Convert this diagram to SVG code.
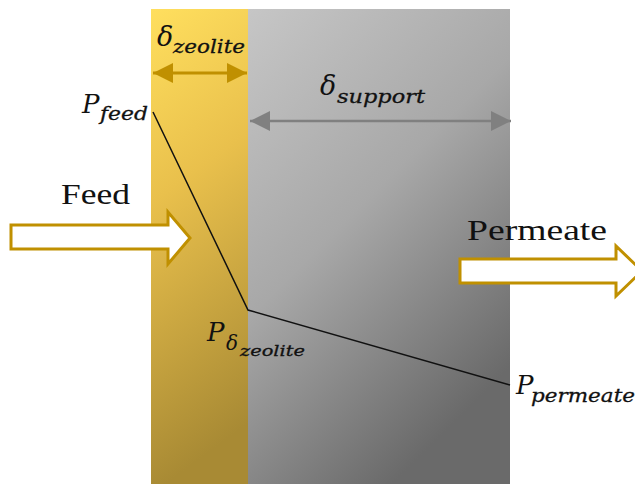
<svg xmlns="http://www.w3.org/2000/svg" width="635" height="484" viewBox="0 0 635 484">
  <defs>
    <linearGradient id="gZeo" x1="0" y1="0" x2="0.15" y2="1">
      <stop offset="0" stop-color="#FFDF5E"/>
      <stop offset="0.4" stop-color="#E9C04C"/>
      <stop offset="1" stop-color="#A88A34"/>
    </linearGradient>
    <linearGradient id="gSup" x1="0" y1="0" x2="0.55" y2="1">
      <stop offset="0" stop-color="#C6C6C6"/>
      <stop offset="0.5" stop-color="#A8A8A8"/>
      <stop offset="1" stop-color="#6A6A6A"/>
    </linearGradient>
    <marker id="hGold" viewBox="0 0 10 10" refX="10" refY="5" markerWidth="20" markerHeight="20" markerUnits="userSpaceOnUse" orient="auto-start-reverse">
      <path d="M0,0 L10,5 L0,10 z" fill="#C09000"/>
    </marker>
    <marker id="hGray" viewBox="0 0 10 10" refX="10" refY="5" markerWidth="20" markerHeight="20" markerUnits="userSpaceOnUse" orient="auto-start-reverse">
      <path d="M0,0 L10,5 L0,10 z" fill="#808080"/>
    </marker>
  </defs>
  <style>
    .math { font-family: "DejaVu Serif", "Liberation Serif", serif; font-style: italic; fill: #111; }
    .sub { font-family: "DejaVu Serif", "Liberation Serif", serif; font-style: italic; fill: #111; stroke: #111; stroke-width: 0.3; }
    .sym { font-family: "DejaVu Serif", "Liberation Serif", serif; font-style: italic; fill: #111; }
    .lbl { font-family: "Liberation Serif", serif; font-size: 30px; fill: #111; }
    .flow { fill: #FFFFFF; stroke: #C09000; stroke-width: 3; stroke-linejoin: miter; }
  </style>

  <!-- membrane layers -->
  <g id="zeolite-layer">
    <rect x="151" y="9" width="97" height="475" fill="url(#gZeo)"/>
  </g>
  <g id="support-layer">
    <rect x="248" y="9" width="262" height="475" fill="url(#gSup)"/>
  </g>

  <g id="connectors">
    <!-- thickness dimensions -->
    <line x1="153" y1="73" x2="247" y2="73" stroke="#C09000" stroke-width="3" marker-start="url(#hGold)" marker-end="url(#hGold)"/>
    <line x1="250" y1="121" x2="511" y2="121" stroke="#808080" stroke-width="2.5" marker-start="url(#hGray)" marker-end="url(#hGray)"/>
    <!-- pressure profile -->
    <polyline points="153,112 248,310 510,385" fill="none" stroke="#111" stroke-width="1.5"/>
  </g>

  <g id="delta-zeolite">
    <text class="sym" x="157" y="46" font-size="27">δ</text>
    <text class="sub" x="173" y="53" font-size="18" textLength="72" lengthAdjust="spacingAndGlyphs">zeolite</text>
  </g>
  <g id="delta-support">
    <text class="sym" x="320" y="95" font-size="27">δ</text>
    <text class="sub" x="337" y="103" font-size="18" textLength="88" lengthAdjust="spacingAndGlyphs">support</text>
  </g>

  <g id="p-feed">
    <text class="math" x="82" y="113" font-size="26">P</text>
    <text class="sub" x="100" y="120" font-size="18" textLength="48" lengthAdjust="spacingAndGlyphs">feed</text>
  </g>
  <g id="p-zeolite">
    <text class="math" x="207" y="341" font-size="26">P</text>
    <text class="sym" x="226" y="350" font-size="20">δ</text>
    <text class="sub" x="240" y="356" font-size="15" textLength="65" lengthAdjust="spacingAndGlyphs">zeolite</text>
  </g>
  <g id="p-permeate">
    <text class="math" x="516" y="394" font-size="26">P</text>
    <text class="sub" x="531" y="402" font-size="18" textLength="104" lengthAdjust="spacingAndGlyphs">permeate</text>
  </g>

  <g id="feed">
    <text class="lbl" x="61" y="204" textLength="69" lengthAdjust="spacingAndGlyphs">Feed</text>
    <path class="flow" d="M11,225 L168,225 L168,212 L190,238 L168,264 L168,249 L11,249 Z"/>
  </g>
  <g id="permeate">
    <text class="lbl" x="467" y="240" textLength="140" lengthAdjust="spacingAndGlyphs">Permeate</text>
    <path class="flow" d="M460,259 L616,259 L616,246 L642,271 L616,296 L616,283 L460,283 Z"/>
  </g>
</svg>
